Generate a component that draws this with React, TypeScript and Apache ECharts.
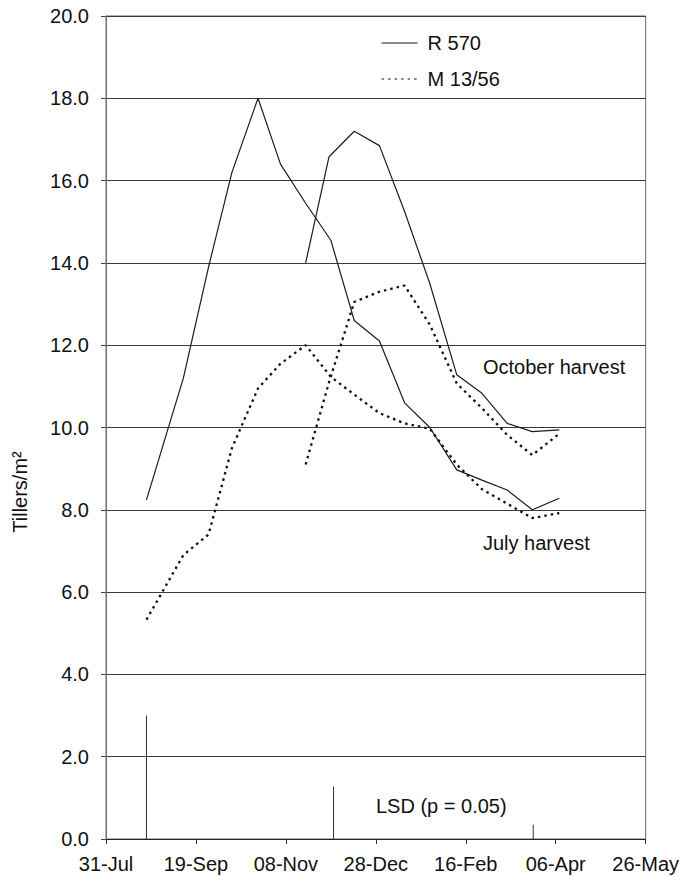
import React, { useEffect, useRef } from "react";
import * as echarts from "echarts";

// x values are days counted from 31-Jul
const tickLabels = ["31-Jul", "19-Sep", "08-Nov", "28-Dec", "16-Feb", "06-Apr", "26-May"];
const yTicks = [0, 2, 4, 6, 8, 10, 12, 14, 16, 18, 20];

// July harvest
const julyDays = [22.5, 43, 57, 70, 84.5, 97, 111, 125, 138, 152, 166, 180, 195, 209, 223, 237, 252];
const julyR570 = [8.24, 11.2, 13.9, 16.2, 18.0, 16.4, 15.45, 14.55, 12.6, 12.1, 10.6, 10.0, 8.97, 8.72, 8.48, 8.0, 8.28];
const julyM1356 = [5.33, 6.9, 7.4, 9.5, 10.95, 11.55, 12.0, 11.23, 10.8, 10.35, 10.1, 9.97, 9.1, 8.5, 8.15, 7.8, 7.92];

// October harvest
const octDays = [111, 124, 138, 152, 166, 180, 195, 209, 223, 237, 252];
const octR570 = [14.0, 16.58, 17.2, 16.85, 15.25, 13.5, 11.28, 10.83, 10.1, 9.9, 9.94];
const octM1356 = [9.1, 11.1, 13.05, 13.3, 13.45, 12.5, 11.07, 10.47, 9.82, 9.33, 9.85];

// LSD (p = 0.05) bars
const lsdDays = [22.5, 126.5, 237.5];
const lsdValues = [3.0, 1.27, 0.35];

const pairs = (xs: number[], ys: number[]) => xs.map((x, i) => [x, ys[i]]);

const FONT = "'Liberation Sans', Arial, sans-serif";

const solidStyle = { color: "#1c1c1c", width: 1.2, type: "solid" as const };
const dottedStyle = { color: "#111", width: 2.3, type: [2.5, 4] as number[] };

export default function App() {
  const ref = useRef<HTMLDivElement>(null);

  useEffect(() => {
    if (!ref.current) return;
    const chart = echarts.init(ref.current, null, { renderer: "svg" });

    const lineSeries = (name: string, data: number[][], style: any) => ({
      name,
      type: "line",
      data,
      symbol: "none",
      silent: true,
      lineStyle: style,
      itemStyle: { color: style.color },
    });

    const lsdSeries = lsdDays.map((d, i) => ({
      name: "LSD",
      type: "line",
      data: [
        [d, 0],
        [d, lsdValues[i]],
      ],
      symbol: "none",
      silent: true,
      lineStyle: { color: "#333", width: 1 },
    }));

    chart.setOption({
      animation: false,
      textStyle: { fontFamily: FONT },
      grid: {
        left: 106,
        right: 30,
        top: 16,
        bottom: 37,
        show: true,
        borderColor: "#666",
        borderWidth: 1,
      },
      legend: {
        data: ["R 570", "M 13/56"],
        orient: "vertical",
        left: 381,
        top: 33,
        itemWidth: 36,
        itemHeight: 14,
        itemGap: 16,
        padding: 0,
        selectedMode: false,
        itemStyle: { opacity: 0 },
        lineStyle: { width: 1.2 },
        textStyle: { fontSize: 20, color: "#111", fontFamily: FONT, padding: [0, 0, 0, 5] },
      },
      xAxis: {
        type: "value",
        min: 0,
        max: 300,
        interval: 50,
        axisLine: { lineStyle: { color: "#222", width: 1 } },
        axisTick: { show: true, inside: false, length: 5, lineStyle: { color: "#333" } },
        splitLine: { show: false },
        axisLabel: {
          margin: 15,
          fontSize: 20,
          color: "#111",
          fontFamily: FONT,
          formatter: (v: number) => tickLabels[Math.round(v / 50)] ?? "",
        },
      },
      yAxis: {
        type: "value",
        min: yTicks[0],
        max: yTicks[yTicks.length - 1],
        interval: 2,
        axisLine: { show: true, lineStyle: { color: "#777", width: 1 } },
        axisTick: { show: true, inside: false, length: 5, lineStyle: { color: "#444" } },
        splitLine: { show: true, lineStyle: { color: "#3a3a3a", width: 1 } },
        axisLabel: {
          margin: 17,
          fontSize: 20,
          color: "#111",
          fontFamily: FONT,
          formatter: (v: number) => v.toFixed(1),
        },
      },
      graphic: [
        {
          type: "text",
          x: 20,
          y: 492,
          rotation: Math.PI / 2,
          style: {
            text: "Tillers/m²",
            font: `20px ${FONT}`,
            fill: "#111",
            align: "center",
            verticalAlign: "middle",
          },
        },
        {
          type: "text",
          x: 483,
          y: 367,
          style: { text: "October harvest", font: `20px ${FONT}`, fill: "#111", verticalAlign: "middle" },
        },
        {
          type: "text",
          x: 483,
          y: 543,
          style: { text: "July harvest", font: `20px ${FONT}`, fill: "#111", verticalAlign: "middle" },
        },
        {
          type: "text",
          x: 376,
          y: 806,
          style: { text: "LSD (p = 0.05)", font: `20px ${FONT}`, fill: "#111", verticalAlign: "middle" },
        },
      ],
      series: [
        lineSeries("R 570", pairs(julyDays, julyR570), solidStyle),
        lineSeries("M 13/56", pairs(julyDays, julyM1356), dottedStyle),
        lineSeries("R 570", pairs(octDays, octR570), solidStyle),
        lineSeries("M 13/56", pairs(octDays, octM1356), dottedStyle),
        ...lsdSeries,
      ],
    });

    return () => chart.dispose();
  }, []);

  return (
    <div
      ref={ref}
      style={{ position: "fixed", left: 0, top: 0, width: 682, height: 876, background: "#fff" }}
    />
  );
}
